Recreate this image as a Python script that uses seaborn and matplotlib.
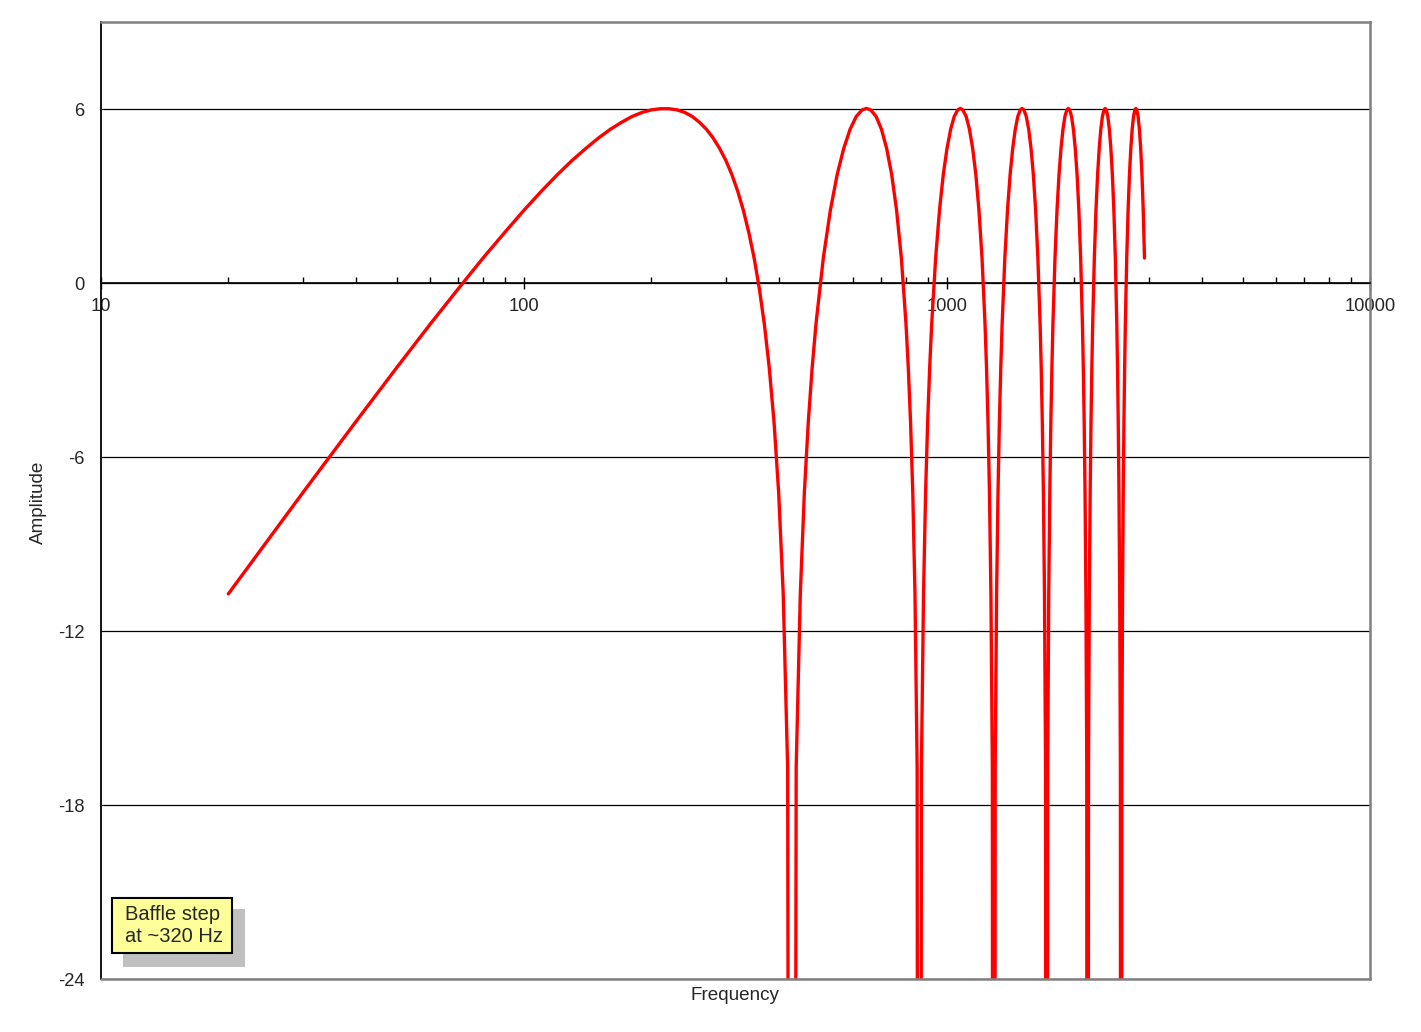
import numpy as np
import pandas as pd
import seaborn as sns
import matplotlib.pyplot as plt
from matplotlib.patches import Rectangle
from matplotlib.ticker import FixedLocator, FixedFormatter, LogLocator, NullFormatter

# values (Hz, dB); the last point of each lobe is the null
lobe1_hz = [20, 30, 40, 50, 60, 70, 80, 90, 100, 110, 120, 130, 140, 150, 160, 170, 180, 190, 200, 210,
            220, 230, 240, 250, 260, 270, 280, 290, 300, 310, 320, 330, 340, 350, 360, 370, 380, 390, 400,
            410, 420, 430]
lobe1_db = [-10.72, -7.23, -4.79, -2.92, -1.42, -0.19, 0.86, 1.74, 2.51, 3.17, 3.74, 4.23, 4.64, 5.00,
            5.30, 5.54, 5.74, 5.88, 5.97, 6.01, 6.01, 5.97, 5.88, 5.74, 5.54, 5.30, 5.00, 4.64, 4.23, 3.74,
            3.17, 2.51, 1.74, 0.86, -0.19, -1.42, -2.92, -4.79, -7.23, -10.72, -16.71, -100]

lobe2_hz = [440, 450, 460, 470, 480, 490, 510, 530, 550, 570, 590, 610, 630, 645, 660, 680, 700, 720,
            740, 760, 780, 800, 810, 820, 830, 840, 850, 860]
lobe3_hz = [870, 880, 890, 900, 910, 920, 940, 960, 980, 1000, 1020, 1040, 1060, 1075, 1090, 1110, 1130,
            1150, 1170, 1190, 1210, 1230, 1240, 1250, 1260, 1270, 1280, 1290]
lobe4_hz = [1300, 1310, 1320, 1330, 1340, 1350, 1370, 1390, 1410, 1430, 1450, 1470, 1490, 1505, 1520,
            1540, 1560, 1580, 1600, 1620, 1640, 1660, 1670, 1680, 1690, 1700, 1710, 1720]
lobe5_hz = [1730, 1740, 1750, 1760, 1770, 1780, 1800, 1820, 1840, 1860, 1880, 1900, 1920, 1935, 1950,
            1970, 1990, 2010, 2030, 2050, 2070, 2090, 2100, 2110, 2120, 2130, 2140, 2150]
lobe6_hz = [2160, 2170, 2180, 2190, 2200, 2210, 2230, 2250, 2270, 2290, 2310, 2330, 2350, 2365, 2380,
            2400, 2420, 2440, 2460, 2480, 2500, 2520, 2530, 2540, 2550, 2560, 2570, 2580]
# upper lobes all look the same
lobe_db = [-16.71, -10.72, -7.23, -4.79, -2.92, -1.42, 0.86, 2.51, 3.74, 4.64, 5.30, 5.74, 5.97, 6.02,
           5.97, 5.74, 5.30, 4.64, 3.74, 2.51, 0.86, -1.42, -2.92, -4.79, -7.23, -10.72, -16.71, -100]
lobe7_hz = [2590, 2600, 2610, 2620, 2630, 2640, 2660, 2680, 2700, 2720, 2740, 2760, 2780, 2795, 2810,
            2830, 2850, 2870, 2890, 2910, 2930]
lobe7_db = [-16.71, -10.72, -7.23, -4.79, -2.92, -1.42, 0.86, 2.51, 3.74, 4.64, 5.30, 5.74, 5.97, 6.02,
            5.97, 5.74, 5.30, 4.64, 3.74, 2.51, 0.86]

y_ticks = [-24, -18, -12, -6, 0, 6]
x_ticks = [10, 100, 1000, 10000]
x_tick_labels = ["10", "100", "1000", "10000"]
note = "Baffle step\nat ~320 Hz"

freq = lobe1_hz + lobe2_hz + lobe3_hz + lobe4_hz + lobe5_hz + lobe6_hz + lobe7_hz
amp = lobe1_db + lobe_db * 5 + lobe7_db
df = pd.DataFrame({"Frequency": freq, "Amplitude": amp})

sns.set_style("white")
plt.rcParams['font.family'] = ['Liberation Sans', 'DejaVu Sans']

fig = plt.figure(figsize=(14.21, 10.32), dpi=100)
ax = fig.add_axes([101/1421, 1-979/1032, 1269/1421, 957/1032])

sns.lineplot(data=df, x="Frequency", y="Amplitude", ax=ax, color="#ff0000", lw=2.4,
             sort=False, estimator=None, zorder=4, solid_capstyle="round")

ax.set_xscale("log")
ax.set_xlim(10, 10000)
ax.set_ylim(-24, 9)

ax.xaxis.set_major_locator(FixedLocator(x_ticks))
ax.xaxis.set_major_formatter(FixedFormatter(x_tick_labels))
ax.xaxis.set_minor_locator(LogLocator(base=10, subs=np.arange(2, 10)))
ax.xaxis.set_minor_formatter(NullFormatter())
ax.set_yticks(y_ticks)
ax.set_yticklabels([str(v) for v in y_ticks])

# x axis sits on the 0 dB line
ax.spines['bottom'].set_position(('data', 0))
ax.spines['bottom'].set_color("black")
ax.spines['bottom'].set_linewidth(1.2)
ax.spines['left'].set_color("black")
ax.spines['left'].set_linewidth(1.3)
for s in ['top', 'right']:
  ax.spines[s].set_color("#808080")
  ax.spines[s].set_linewidth(1.8)
ax.axhline(-24, color="#808080", lw=1.8, clip_on=False, zorder=5)

ax.tick_params(axis='x', which='major', direction='inout', length=8, width=1, color="black",
               labelsize=13.2, pad=7, bottom=True)
ax.tick_params(axis='x', which='minor', direction='in', length=4, width=1, color="black", bottom=True)
ax.tick_params(axis='y', length=0, labelsize=13.2, pad=12)

ax.yaxis.grid(True, color="black", lw=0.9)
ax.xaxis.grid(False)
ax.set_xlabel("")
ax.set_ylabel("")
fig.text(38/1421, 1-502/1032, "Amplitude", rotation=90, ha="center", va="center", fontsize=13.6)
fig.text(735/1421, 1-995/1032, "Frequency", ha="center", va="center", fontsize=13.6)

# note box with drop shadow
ax.add_patch(Rectangle((0.0173, 0.0125), 0.0961, 0.0606, transform=ax.transAxes,
                       facecolor="#c0c0c0", edgecolor="none", zorder=6, clip_on=False))
ax.add_patch(Rectangle((0.0087, 0.0272), 0.0946, 0.0575, transform=ax.transAxes,
                       facecolor="#ffff99", edgecolor="black", lw=1.5, zorder=7, clip_on=False))
ax.text(0.0189, 0.0555, note, transform=ax.transAxes, ha="left", va="center",
        fontsize=14.5, linespacing=1.2, zorder=8)

plt.savefig("out.png", dpi=100)
